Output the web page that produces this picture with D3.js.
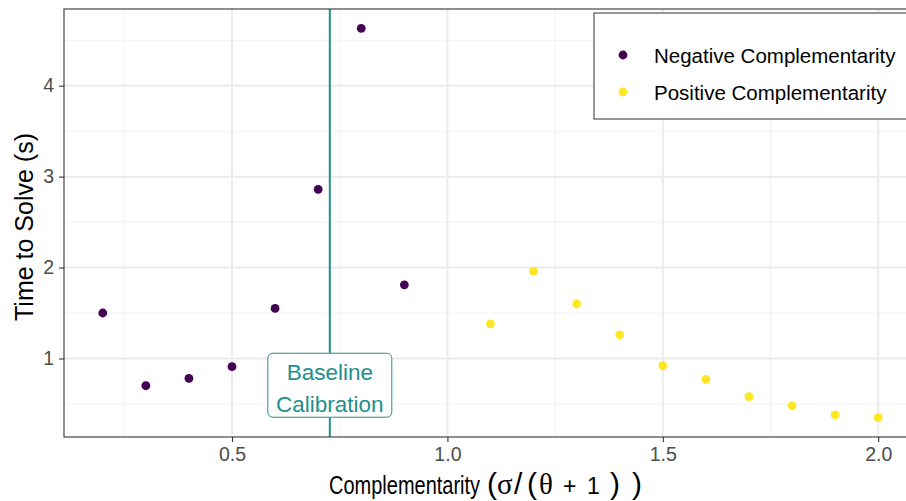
<!DOCTYPE html>
<html>
<head>
<meta charset="utf-8">
<script src="https://cdn.jsdelivr.net/npm/d3@7"></script>
<style>
  html, body { margin: 0; padding: 0; background: #fff; overflow: hidden; }
  svg { display: block; }
</style>
</head>
<body>
<svg id="chart" width="906" height="501"></svg>
<script>
// Complementarity ratio for each run and the time it took to solve
const negX = [0.2, 0.3, 0.4, 0.5, 0.6, 0.7, 0.8, 0.9];
const negY = [1.50, 0.70, 0.78, 0.91, 1.55, 2.86, 4.63, 1.81];
const posX = [1.1, 1.2, 1.3, 1.4, 1.5, 1.6, 1.7, 1.8, 1.9, 2.0];
const posY = [1.38, 1.96, 1.60, 1.26, 0.92, 0.77, 0.58, 0.48, 0.38, 0.35];
const seriesNames = ["Negative Complementarity", "Positive Complementarity"];
const seriesColors = ["#440154", "#FDE725"];
const xTicks = [0.5, 1.0, 1.5, 2.0];
const yTicks = [1, 2, 3, 4];
const xMinor = [0.25, 0.75, 1.25, 1.75];
const yMinor = [0.5, 1.5, 2.5, 3.5, 4.5];
const baselineX = 0.727;
const baselineLabelY = 0.70;

const svg = d3.select("#chart");
const panel = { left: 64, top: 9, right: 917, bottom: 437 };

const allX = negX.concat(posX), allY = negY.concat(posY);
const xr = d3.extent(allX), yr = d3.extent(allY);
const xPad = (xr[1] - xr[0]) * 0.05, yPad = (yr[1] - yr[0]) * 0.05;
const x = d3.scaleLinear().domain([xr[0] - xPad, xr[1] + xPad]).range([panel.left, panel.right]);
const y = d3.scaleLinear().domain([yr[0] - yPad, yr[1] + yPad]).range([panel.bottom, panel.top]);

const font = "'Liberation Sans', Arial, Helvetica, sans-serif";
const serif = "'Liberation Serif', 'Times New Roman', serif";

// panel background
svg.append("rect").attr("x", panel.left).attr("y", panel.top)
  .attr("width", panel.right - panel.left).attr("height", panel.bottom - panel.top)
  .attr("fill", "#fff");

// grid lines
const grid = svg.append("g");
grid.selectAll(".xm").data(xMinor).join("line")
  .attr("x1", d => x(d)).attr("x2", d => x(d)).attr("y1", panel.top).attr("y2", panel.bottom)
  .attr("stroke", "#F2F2F2").attr("stroke-width", 1);
grid.selectAll(".ym").data(yMinor).join("line")
  .attr("y1", d => y(d)).attr("y2", d => y(d)).attr("x1", panel.left).attr("x2", panel.right)
  .attr("stroke", "#F2F2F2").attr("stroke-width", 1);
grid.selectAll(".xM").data(xTicks).join("line")
  .attr("x1", d => x(d)).attr("x2", d => x(d)).attr("y1", panel.top).attr("y2", panel.bottom)
  .attr("stroke", "#EBEBEB").attr("stroke-width", 2);
grid.selectAll(".yM").data(yTicks).join("line")
  .attr("y1", d => y(d)).attr("y2", d => y(d)).attr("x1", panel.left).attr("x2", panel.right)
  .attr("stroke", "#EBEBEB").attr("stroke-width", 2);

// baseline calibration line
svg.append("line")
  .attr("x1", x(baselineX)).attr("x2", x(baselineX))
  .attr("y1", panel.top).attr("y2", panel.bottom)
  .attr("stroke", "#21908C").attr("stroke-width", 2);

// points
const pts = svg.append("g");
pts.selectAll(".neg").data(negX.map((d, i) => [d, negY[i]])).join("circle")
  .attr("cx", d => x(d[0])).attr("cy", d => y(d[1])).attr("r", 4.4)
  .attr("fill", seriesColors[0]);
pts.selectAll(".pos").data(posX.map((d, i) => [d, posY[i]])).join("circle")
  .attr("cx", d => x(d[0])).attr("cy", d => y(d[1])).attr("r", 4.4)
  .attr("fill", seriesColors[1]);

// baseline label
const lab = svg.append("g").attr("transform", `translate(${x(baselineX)},${y(baselineLabelY)})`);
lab.append("rect").attr("x", -62).attr("y", -32.5).attr("width", 124).attr("height", 64)
  .attr("rx", 5).attr("fill", "#fff").attr("stroke", "#21908C").attr("stroke-width", 1);
lab.append("text").attr("text-anchor", "middle").attr("y", -6)
  .attr("font-family", font).attr("font-size", 22.5).attr("fill", "#21908C").text("Baseline");
lab.append("text").attr("text-anchor", "middle").attr("y", 26)
  .attr("font-family", font).attr("font-size", 22.5).attr("fill", "#21908C").text("Calibration");

// panel border
svg.append("rect").attr("x", panel.left).attr("y", panel.top)
  .attr("width", panel.right - panel.left).attr("height", panel.bottom - panel.top)
  .attr("fill", "none").attr("stroke", "#333").attr("stroke-width", 1.1);

// axes
const xAxis = svg.append("g").attr("transform", `translate(0,${panel.bottom})`)
  .call(d3.axisBottom(x).tickValues(xTicks).tickFormat(d3.format(".1f")).tickSize(5).tickPadding(4));
const yAxis = svg.append("g").attr("transform", `translate(${panel.left},0)`)
  .call(d3.axisLeft(y).tickValues(yTicks).tickFormat(d3.format("d")).tickSize(5).tickPadding(5));
[xAxis, yAxis].forEach(a => {
  a.select(".domain").remove();
  a.selectAll(".tick line").attr("stroke", "#333").attr("stroke-width", 1.1);
  a.selectAll(".tick text").attr("fill", "#4D4D4D").attr("font-family", font).attr("font-size", 19.5);
});
xAxis.selectAll(".tick text").attr("dy", "0.75em");

// y axis title
svg.append("text").attr("transform", "translate(33,227) rotate(-90)")
  .attr("text-anchor", "middle").attr("font-family", font).attr("font-size", 25)
  .attr("fill", "#000").text("Time to Solve (s)");

// x axis title: condensed word followed by the ratio expression
const titleY = 494;
svg.append("g").attr("transform", `translate(329,${titleY}) scale(0.8,1)`)
  .append("text").attr("font-family", font).attr("font-size", 25).attr("fill", "#000")
  .text("Complementarity");

const mathParts = [
  { t: "(", x: 487, big: true },
  { t: "σ", x: 497, serif: true },
  { t: "/", x: 514, big: true },
  { t: "(", x: 527, big: true },
  { t: "θ", x: 539, serif: true },
  { t: "+", x: 563 },
  { t: "1", x: 587 },
  { t: ")", x: 610, big: true },
  { t: ")", x: 632, big: true }
];
const mt = svg.append("text").attr("y", titleY).attr("font-family", font)
  .attr("font-size", 23).attr("fill", "#000");
mathParts.forEach(p => {
  const s = mt.append("tspan").attr("x", p.x).text(p.t);
  if (p.big) s.attr("font-size", 30).attr("font-weight", 300);
  if (p.serif) s.attr("font-family", serif).attr("font-size", 29);
});

// legend
const lg = svg.append("g");
lg.append("rect").attr("x", 594).attr("y", 13).attr("width", 318).attr("height", 106)
  .attr("fill", "#fff").attr("stroke", "#333").attr("stroke-width", 1);
seriesNames.forEach((name, i) => {
  const cy = 55 + i * 37;
  lg.append("circle").attr("cx", 623).attr("cy", cy).attr("r", 4.4).attr("fill", seriesColors[i]);
  lg.append("text").attr("x", 654).attr("y", cy + 7.5).attr("font-family", font)
    .attr("font-size", 20.5).attr("fill", "#000").text(name);
});
</script>
</body>
</html>
